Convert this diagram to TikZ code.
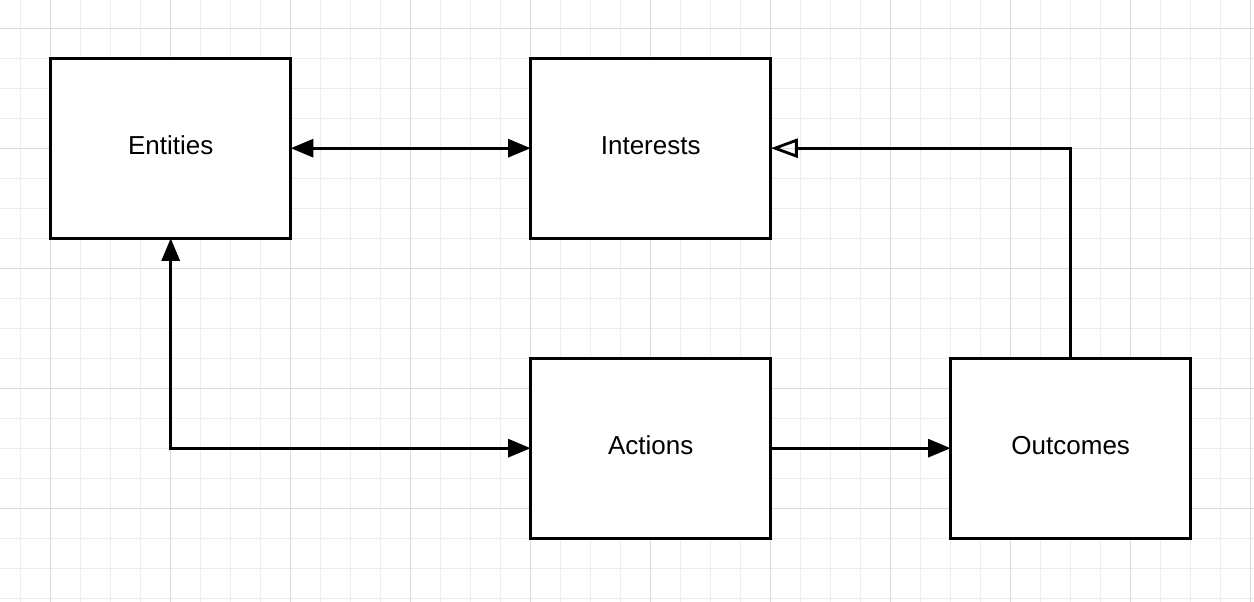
\documentclass[tikz,border=0pt]{standalone}
\usepackage{fontspec}
\setsansfont{Liberation Sans}
\usetikzlibrary{arrows.meta}
\definecolor{gridlight}{HTML}{EDEDED}
\definecolor{griddark}{HTML}{DCDCDC}

\begin{document}
\begin{tikzpicture}[x=0.6cm, y=0.6cm, >={Triangle[length=0.45cm, width=0.36cm]},
  every node/.style={font=\sffamily\fontsize{14.8}{18}\selectfont},
  box/.style={draw, line width=1.7pt, fill=white, minimum width=4.8cm, minimum height=3.6cm, inner sep=0pt, text depth=0.12cm},
  link/.style={line width=1.6pt, shorten >=-0.8pt, shorten <=-0.8pt}]
  \useasboundingbox (-1.69,-3.12) rectangle (40.11,16.94);
  \fill[white] (-1.69,-3.12) rectangle (40.11,16.94);
  \draw[gridlight, line width=0.55pt, step=1] (-1.69,-3.12) grid (40.11,16.94);
  \draw[griddark, line width=0.55pt, step=4] (-1.69,-3.12) grid (40.11,16.94);

  \node[box] (ent) at (4,12) {Entities};
  \node[box] (int) at (20,12) {Interests};
  \node[box] (act) at (20,2) {Actions};
  \node[box] (out) at (34,2) {Outcomes};

  \draw[link, <->] (ent) -- (int);
  \draw[link, <->] (ent.south) |- (act.west);
  \draw[link, ->] (act) -- (out);
  \draw[link, -{Triangle[open, length=0.54cm, width=0.38cm]}] (out.north) |- (int.east);
\end{tikzpicture}
\end{document}
